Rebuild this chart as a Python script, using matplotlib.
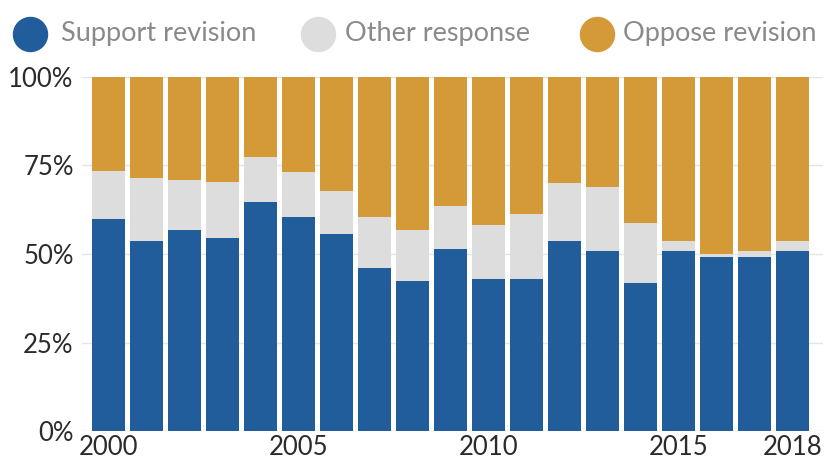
import numpy as np
import matplotlib.pyplot as plt
from matplotlib.lines import Line2D

years = list(range(2000, 2019))
support = [59.8, 53.8, 56.8, 54.5, 64.7, 60.5, 55.6, 46.0, 42.3, 51.4,
           42.9, 42.9, 53.8, 50.8, 41.7, 50.8, 49.1, 49.1, 50.8]
other = [13.6, 17.6, 14.1, 15.7, 12.8, 12.8, 12.3, 14.5, 14.5, 12.2,
         15.4, 18.3, 16.3, 18.2, 17.1, 3.0, 0.8, 1.7, 3.0]
oppose = [100 - s - o for s, o in zip(support, other)]
series_names = ['Support revision', 'Other response', 'Oppose revision']
xtick_years = [2000, 2005, 2010, 2015, 2018]
ytick_vals = [0, 25, 50, 75, 100]

blue = '#215d9a'
grey = '#dddddd'
orange = '#d49a37'
colors = [blue, grey, orange]

plt.rcParams['font.family'] = ['Lato', 'DejaVu Sans']

fig = plt.figure(figsize=(8.27, 4.63), dpi=100)
ax = fig.add_axes([0.0992, 0.0691, 0.896, 0.7646])

x = np.arange(len(years))
w = 0.87
ax.bar(x, support, w, color=blue, zorder=3)
ax.bar(x, other, w, bottom=support, color=grey, zorder=3)
ax.bar(x, oppose, w, bottom=np.array(support) + np.array(other), color=orange, zorder=3)

ax.set_xlim(-0.698, 18.803)
ax.set_ylim(0, 100)
ax.set_yticks(ytick_vals)
ax.set_yticklabels([f'{v}%' for v in ytick_vals])
ax.set_xticks([years.index(y) for y in xtick_years])
ax.set_xticklabels([str(y) for y in xtick_years])
ax.grid(axis='y', color='#e4e4e4', linewidth=1, zorder=0)
ax.tick_params(length=0, labelsize=18.5, colors='#2b2b2b', pad=6)
ax.tick_params(axis='x', pad=3)
for s in ax.spines.values():
    s.set_visible(False)

# legend row drawn by hand: dot + label
dot_x = [30, 318, 597]
text_x = [61, 345, 623]
ly = 1 - 34 / 463
for dx, tx, c, name in zip(dot_x, text_x, colors, series_names):
    fig.add_artist(Line2D([dx / 827], [ly], transform=fig.transFigure, marker='o',
                          markersize=24.5, color=c, linestyle='none'))
    fig.text(tx / 827, ly, name, fontsize=19.5, color='#8a8a8a', va='center', ha='left')

fig.savefig('out.png', dpi=100)
